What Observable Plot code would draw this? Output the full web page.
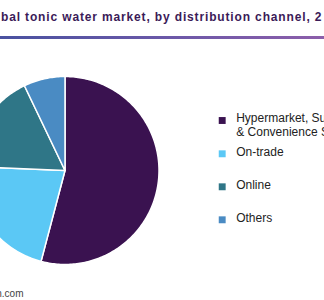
<!DOCTYPE html>
<html>
<head>
<meta charset="utf-8">
<script src="https://cdn.jsdelivr.net/npm/d3@7"></script>
<script src="https://cdn.jsdelivr.net/npm/@observablehq/plot@0.6"></script>
<style>
  html, body { margin: 0; padding: 0; background: #fff; }
  body { width: 324px; height: 300px; overflow: hidden; position: relative; font-family: "Liberation Sans", Arial, sans-serif; }
  #titlesvg { position: absolute; left: 0; top: 0; }
  #rule { position: absolute; left: 0; top: 36px; width: 324px; height: 2.5px; background: linear-gradient(to right, #4a52a0, #6a58a8 50%, #8c5eaa); }
  #chart { position: absolute; left: 0; top: 40px; }
</style>
</head>
<body>
<svg id="titlesvg" width="322" height="32" overflow="hidden">
  <text y="20.7" font-family="Liberation Sans, Arial, sans-serif" font-size="12" font-weight="bold" fill="#3b1b58"><tspan x="-0.3" text-anchor="end">Glo</tspan><tspan x="1" text-anchor="start" textLength="320.5" lengthAdjust="spacing">bal tonic water market, by distribution channel, 2</tspan><tspan x="322.5" text-anchor="start">019 (%)</tspan></text>
</svg>
<div id="rule"></div>
<div id="chart"></div>
<script>
// ---- data ----
const channels = ["Hypermarket, Supermarket & Convenience Stores", "On-trade", "Online", "Others"];
const shares = [54.1, 21.6, 17.2, 7.1];
const legendLabels = ["Hypermarket, Supermarket\n& Convenience Stores", "On-trade", "Online", "Others"];
const colors = ["#3a1250", "#5bc8f5", "#2f7687", "#4a8bc3"];
const sourceText = "Source: www.grandviewresearch.com";

// ---- pie geometry from data (unit circle, 0 at 12 o'clock, clockwise) ----
const arcs = d3.pie().sort(null).value(d => d)(shares);
const points = [];
arcs.forEach((a, i) => {
  const ch = channels[i];
  points.push({channel: ch, x: 0, y: 0});
  const steps = Math.max(2, Math.ceil((a.endAngle - a.startAngle) / (Math.PI / 180)));
  for (let k = 0; k <= steps; k++) {
    const t = a.startAngle + (a.endAngle - a.startAngle) * k / steps;
    points.push({channel: ch, x: Math.sin(t), y: Math.cos(t)});
  }
  points.push({channel: ch, x: 0, y: 0});
});

const W = 324, H = 260;
const cx = 64.5, cy = 130, R = 94;

const legendMarks = channels.flatMap((ch, i) => {
  const yc = [80, 113.3, 146.3, 179.3][i];
  return [
    Plot.dot([ch], {frameAnchor: "top-left", dx: 221.7, dy: yc, r: 3.9, symbol: "square", fill: d => d, stroke: null}),
    Plot.text([legendLabels[i]], {frameAnchor: "top-left", dx: 235.7, text: d => d, textAnchor: "start", lineAnchor: "top", dy: yc - 8.2, lineHeight: 1.17, fontSize: 12, fill: "#222", fontFamily: "Liberation Sans, Arial, sans-serif"})
  ];
});

const chart = Plot.plot({
  width: W,
  height: H,
  margin: 0,
  style: {background: "white", overflow: "hidden"},
  x: {domain: [-1, 1], range: [cx - R, cx + R], axis: null},
  y: {domain: [-1, 1], range: [cy + R, cy - R], axis: null},
  color: {domain: channels, range: colors},
  marks: [
    Plot.line(points, {x: "x", y: "y", z: "channel", fill: "channel", stroke: "white", strokeWidth: 1.5, strokeLinejoin: "round", curve: "linear"}),
    ...legendMarks,
    Plot.text([sourceText], {frameAnchor: "top-left", dx: 23, dy: 253, text: d => d, textAnchor: "end", lineAnchor: "middle", fontSize: 10, fill: "#444", fontFamily: "Liberation Sans, Arial, sans-serif"})
  ]
});
document.getElementById("chart").appendChild(chart);
</script>
</body>
</html>
